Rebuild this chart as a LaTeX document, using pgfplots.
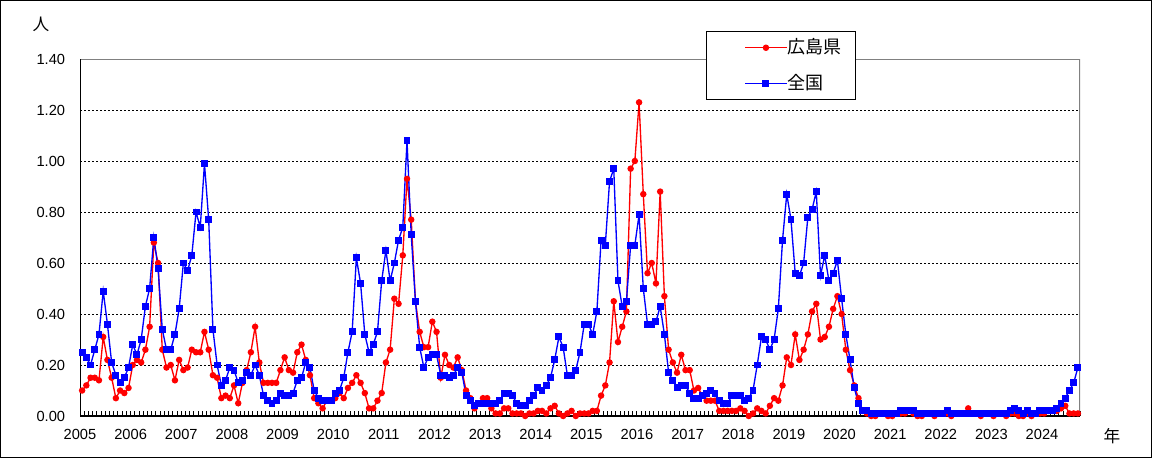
\documentclass[border=0pt]{standalone}
\usepackage{pgfplots}
\pgfplotsset{compat=1.18}
\usepackage{pgfplotstable}
\usepackage{fontspec}
\setmainfont{Liberation Sans}
\newfontfamily\jp{Noto Sans CJK JP}
\definecolor{frame}{RGB}{128,128,128}

% m = month index from 2005-01, h = 広島県, z = 全国
\pgfplotstableread{
m h z
0 0.10 0.25
1 0.12 0.23
2 0.15 0.20
3 0.15 0.26
4 0.14 0.32
5 0.31 0.49
6 0.22 0.36
7 0.15 0.21
8 0.07 0.16
9 0.10 0.13
10 0.09 0.15
11 0.11 0.19
12 0.20 0.28
13 0.22 0.24
14 0.21 0.30
15 0.26 0.43
16 0.35 0.50
17 0.68 0.70
18 0.60 0.58
19 0.26 0.34
20 0.19 0.26
21 0.20 0.26
22 0.14 0.32
23 0.22 0.42
24 0.18 0.60
25 0.19 0.57
26 0.26 0.63
27 0.25 0.80
28 0.25 0.74
29 0.33 0.99
30 0.26 0.77
31 0.16 0.34
32 0.15 0.20
33 0.07 0.12
34 0.08 0.14
35 0.07 0.19
36 0.12 0.18
37 0.05 0.13
38 0.13 0.14
39 0.18 0.17
40 0.25 0.16
41 0.35 0.20
42 0.21 0.16
43 0.13 0.08
44 0.13 0.06
45 0.13 0.05
46 0.13 0.06
47 0.18 0.09
48 0.23 0.08
49 0.18 0.08
50 0.17 0.09
51 0.25 0.14
52 0.28 0.15
53 0.22 0.21
54 0.16 0.19
55 0.07 0.10
56 0.05 0.07
57 0.03 0.06
58 0.06 0.06
59 0.06 0.06
60 0.07 0.09
61 0.09 0.10
62 0.07 0.15
63 0.11 0.25
64 0.13 0.33
65 0.16 0.62
66 0.13 0.52
67 0.09 0.32
68 0.03 0.25
69 0.03 0.28
70 0.06 0.33
71 0.09 0.53
72 0.21 0.65
73 0.26 0.53
74 0.46 0.60
75 0.44 0.69
76 0.63 0.74
77 0.93 1.08
78 0.77 0.71
79 0.45 0.45
80 0.33 0.27
81 0.27 0.19
82 0.27 0.23
83 0.37 0.24
84 0.33 0.24
85 0.15 0.16
86 0.24 0.16
87 0.20 0.15
88 0.19 0.16
89 0.23 0.19
90 0.18 0.17
91 0.10 0.08
92 0.07 0.06
93 0.03 0.04
94 0.05 0.05
95 0.07 0.05
96 0.07 0.05
97 0.03 0.05
98 0.01 0.05
99 0.01 0.06
100 0.03 0.09
101 0.03 0.09
102 0.01 0.08
103 0.01 0.05
104 0.01 0.04
105 0.00 0.04
106 0.01 0.06
107 0.01 0.08
108 0.02 0.11
109 0.02 0.10
110 0.01 0.12
111 0.03 0.15
112 0.04 0.22
113 0.01 0.31
114 0.00 0.27
115 0.01 0.16
116 0.02 0.16
117 0.00 0.18
118 0.01 0.25
119 0.01 0.36
120 0.01 0.36
121 0.02 0.32
122 0.02 0.41
123 0.08 0.69
124 0.12 0.67
125 0.21 0.92
126 0.45 0.97
127 0.29 0.53
128 0.35 0.43
129 0.41 0.45
130 0.97 0.67
131 1.00 0.67
132 1.23 0.79
133 0.87 0.50
134 0.56 0.36
135 0.60 0.36
136 0.52 0.37
137 0.88 0.43
138 0.47 0.32
139 0.26 0.17
140 0.21 0.14
141 0.17 0.11
142 0.24 0.12
143 0.18 0.12
144 0.18 0.09
145 0.10 0.07
146 0.11 0.07
147 0.08 0.08
148 0.06 0.09
149 0.06 0.10
150 0.06 0.09
151 0.02 0.06
152 0.02 0.05
153 0.02 0.05
154 0.02 0.08
155 0.02 0.08
156 0.03 0.08
157 0.02 0.06
158 0.00 0.07
159 0.01 0.10
160 0.03 0.20
161 0.02 0.31
162 0.01 0.30
163 0.04 0.26
164 0.07 0.30
165 0.06 0.42
166 0.12 0.69
167 0.23 0.87
168 0.20 0.77
169 0.32 0.56
170 0.22 0.55
171 0.26 0.60
172 0.32 0.78
173 0.41 0.81
174 0.44 0.88
175 0.30 0.55
176 0.31 0.63
177 0.35 0.53
178 0.42 0.56
179 0.47 0.61
180 0.40 0.46
181 0.26 0.32
182 0.18 0.22
183 0.12 0.11
184 0.07 0.05
185 0.02 0.02
186 0.01 0.02
187 0.00 0.01
188 0.00 0.01
189 0.01 0.01
190 0.01 0.01
191 0.00 0.01
192 0.00 0.01
193 0.01 0.01
194 0.01 0.02
195 0.01 0.02
196 0.02 0.02
197 0.01 0.02
198 0.00 0.01
199 0.00 0.01
200 0.01 0.01
201 0.01 0.01
202 0.00 0.01
203 0.01 0.01
204 0.01 0.01
205 0.01 0.02
206 0.00 0.01
207 0.01 0.01
208 0.01 0.01
209 0.01 0.01
210 0.03 0.01
211 0.01 0.01
212 0.01 0.01
213 0.00 0.01
214 0.01 0.01
215 0.01 0.01
216 0.00 0.01
217 0.01 0.01
218 0.01 0.01
219 0.00 0.01
220 0.01 0.02
221 0.01 0.03
222 0.00 0.02
223 0.00 0.01
224 0.01 0.02
225 0.00 0.01
226 0.01 0.01
227 0.01 0.02
228 0.01 0.02
229 0.02 0.02
230 0.02 0.02
231 0.02 0.03
232 0.03 0.05
233 0.04 0.07
234 0.01 0.10
235 0.01 0.13
236 0.01 0.19
}\data

\begin{document}
\begin{tikzpicture}
\useasboundingbox (0,0) rectangle (864pt,343.5pt);
\draw[line width=0.75pt] (0.375pt,0.375pt) rectangle (863.625pt,343.125pt);
\begin{axis}[
  at={(60pt,31.5pt)}, anchor=south west,
  scale only axis, width=750pt, height=267.75pt,
  xmin=0, xmax=237, ymin=0, ymax=1.4,
  axis line style={draw=none},
  xtick={0,12,...,228},
  xticklabels={2005,2006,2007,2008,2009,2010,2011,2012,2013,2014,2015,2016,2017,2018,2019,2020,2021,2022,2023,2024},
  minor xtick={0,1,...,237},
  xtick pos=left,
  tick align=inside,
  major tick length=3.75pt, minor tick length=3.75pt,
  xtick style={black, line width=0.75pt},
  minor tick style={black, line width=0.75pt},
  ytick={0,0.2,0.4,0.6,0.8,1.0,1.2,1.4},
  ytick style={draw=none},
  /pgf/number format/fixed,
  /pgf/number format/fixed zerofill,
  /pgf/number format/precision=2,
  /pgf/number format/assume math mode=true,
  ticklabel style={font=\fontsize{11}{13}\selectfont, inner sep=0pt},
  yticklabel style={anchor=east, xshift=-11pt},
  xticklabel style={anchor=north, yshift=-9.5pt},
  ymajorgrids,
  major grid style={black, line width=0.75pt, dash pattern=on 1.5pt off 1.5pt},
  legend style={
    at={(0.626,1.078)}, anchor=north west,
    draw=black, line width=0.9pt, fill=white,
    inner xsep=10.5pt, inner ysep=5.5pt,
    font=\jp\fontsize{13.5}{16}\selectfont,
    nodes={inner sep=0pt, text height=10.5pt, text depth=2.5pt},
    row sep=14pt,
    /tikz/every even column/.append style={column sep=3.75pt},
  },
  legend cell align=left,
  legend image code/.code={
    \path (-18pt,0pt);
    \draw[#1, mark repeat=2, mark phase=2] plot coordinates {(0pt,0pt) (15.5pt,0pt) (31pt,0pt)};
  },
]
\draw[frame, line width=1.5pt] (rel axis cs:0,1) -- (rel axis cs:1,1) -- (rel axis cs:1,0);
\draw[black, line width=0.9pt] (rel axis cs:0,1) -- (rel axis cs:0,0) -- (rel axis cs:1,0);
\addplot[red, line width=1pt, mark=*, mark size=1.9pt, mark options={solid, fill=red}]
  table[x expr=\thisrow{m}+0.5, y=h] {\data};
\addlegendentry{広島県}
\addplot[blue, line width=1pt, mark=square*, mark size=2.1pt, mark options={solid, fill=blue}]
  table[x expr=\thisrow{m}+0.5, y=z] {\data};
\addlegendentry{全国}
\end{axis}
\node[font=\jp\fontsize{12.5}{15}\selectfont] at (30.75pt,325pt) {人};
\node[font=\jp\fontsize{12.5}{15}\selectfont] at (834pt,16.5pt) {年};
\end{tikzpicture}
\end{document}
